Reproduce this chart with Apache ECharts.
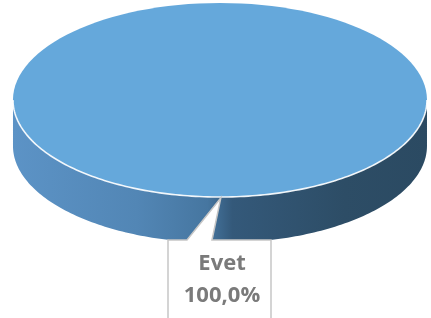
<!DOCTYPE html>
<html>
<head>
<meta charset="utf-8">
<script src="https://cdn.jsdelivr.net/npm/echarts@6/dist/echarts.min.js"></script>
<style>
html,body{margin:0;padding:0;background:#fff;}
#chart{width:431px;height:318px;}
</style>
</head>
<body>
<div id="chart"></div>
<script>
var categories = ['Evet'];
var values = [100];

var chart = echarts.init(document.getElementById('chart'), null, {renderer: 'canvas'});
var total = values.reduce(function (a, b) { return a + b; }, 0);

function geom(api) {
  var W = api.getWidth(), H = api.getHeight();
  return {cx: W * 0.5104, cy: H * 0.3145, rx: 207, ry: 97, d: 46};
}
function pt(g, a, y0) { return [g.cx + g.rx * Math.cos(a), y0 + g.ry * Math.sin(a)]; }

function renderItem(params, api) {
  var g = geom(api);
  var idx = params.dataIndex;
  var before = 0;
  for (var i = 0; i < idx; i++) before += values[i];
  var share = api.value(1) / total;
  var a0 = -Math.PI / 2 + (before / total) * Math.PI * 2;
  var a1 = a0 + share * Math.PI * 2;
  var children = [];
  var N = 160;

  var s0 = Math.max(a0, 0), s1 = Math.min(a1, Math.PI);
  if (share >= 0.9999) { s0 = 0; s1 = Math.PI; }
  if (s1 > s0) {
    var pts = [], k, a;
    for (k = 0; k <= N; k++) { a = s1 - (s1 - s0) * k / N; pts.push(pt(g, a, g.cy)); }
    for (k = 0; k <= N; k++) { a = s0 + (s1 - s0) * k / N; pts.push(pt(g, a, g.cy + g.d)); }
    children.push({
      type: 'polygon',
      shape: {points: pts},
      style: {
        fill: new echarts.graphic.LinearGradient(0, 0, 1, 0, [
          {offset: 0, color: '#5c93c6'},
          {offset: 0.3, color: '#5286b5'},
          {offset: 0.47, color: '#4676a0'},
          {offset: 0.53, color: '#34597a'},
          {offset: 0.8, color: '#2d4d66'},
          {offset: 1, color: '#2b4a62'}
        ])
      }
    });
  }

  if (share >= 0.9999) {
    children.push({
      type: 'ellipse',
      shape: {cx: g.cx, cy: g.cy, rx: g.rx, ry: g.ry},
      style: {fill: '#65a8db'}
    });
  } else {
    var tp = [[g.cx, g.cy]];
    for (var j = 0; j <= N; j++) tp.push(pt(g, a0 + (a1 - a0) * j / N, g.cy));
    children.push({type: 'polygon', shape: {points: tp}, style: {fill: '#65a8db'}});
  }

  if (s1 > s0) {
    var rim = [];
    for (var m = 0; m <= N; m++) rim.push(pt(g, s0 + (s1 - s0) * m / N, g.cy));
    children.push({
      type: 'polyline',
      shape: {points: rim},
      style: {stroke: 'rgba(255,255,255,0.9)', lineWidth: 1.6, fill: null}
    });
  }

  var mid = (a0 + a1) / 2;
  var tip = share >= 0.9999 ? pt(g, Math.PI / 2 - 0.004, g.cy) : pt(g, mid, g.cy);
  var bx0 = 168, bx1 = 271, by = 240, bb = 340;
  children.push({
    type: 'polygon',
    shape: {points: [[bx0, by], [187, by], [tip[0], tip[1] + 1], [212, by], [bx1, by], [bx1, bb], [bx0, bb]]},
    style: {fill: '#ffffff', stroke: '#c6c6c6', lineWidth: 1.5}
  });
  var pct = (share * 100).toFixed(1).replace('.', ',') + '%';
  children.push({
    type: 'text',
    style: {
      text: categories[idx] + '\n' + pct,
      x: 222, y: 280,
      align: 'center', verticalAlign: 'middle',
      fill: '#7a7a7a',
      font: 'bold 22px "Open Sans", sans-serif',
      lineHeight: 32
    }
  });

  return {type: 'group', children: children};
}

chart.setOption({
  animation: false,
  backgroundColor: '#ffffff',
  series: [{
    type: 'custom',
    coordinateSystem: 'none',
    renderItem: renderItem,
    data: values.map(function (v, i) { return [i, v]; })
  }]
});
</script>
</body>
</html>
